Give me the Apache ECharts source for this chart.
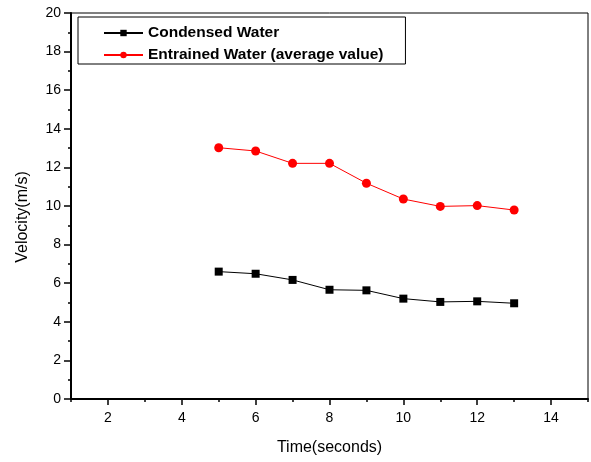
<!DOCTYPE html>
<html>
<head>
<meta charset="utf-8">
<script src="https://cdn.jsdelivr.net/npm/echarts@6/dist/echarts.min.js"></script>
<style>html,body{margin:0;padding:0;background:#fff}#c{width:591px;height:462px}</style>
</head>
<body>
<div id="c"></div>
<script>
var timeValues = [5, 6, 7, 8, 9, 10, 11, 12, 13];
var condensedWater = [6.60, 6.49, 6.17, 5.66, 5.63, 5.20, 5.03, 5.06, 4.96];
var entrainedWater = [13.02, 12.85, 12.21, 12.21, 11.18, 10.36, 9.98, 10.02, 9.79];
var xMajorTicks = [2, 4, 6, 8, 10, 12, 14];
var xMinorTicks = [1, 3, 5, 7, 9, 11, 13, 15];

function pairs(xs, ys) { return xs.map(function (x, i) { return [x, ys[i]]; }); }

var font = 'Liberation Sans, Arial, sans-serif';
var chart = echarts.init(document.getElementById('c'), null, {renderer: 'canvas'});
chart.setOption({
  animation: false,
  backgroundColor: '#fff',
  grid: {left: 71, right: 3, top: 13, bottom: 63, show: true, borderColor: '#000', borderWidth: 1, backgroundColor: 'transparent'},
  legend: {
    orient: 'vertical', left: 78, top: 17,
    padding: [8, 22, 1, 25],
    borderColor: '#000', borderWidth: 1,
    itemWidth: 39, itemHeight: 8, itemGap: 6,
    textStyle: {fontFamily: font, fontSize: 15.5, fontWeight: 'bold', color: '#000'},
    data: ['Condensed Water', 'Entrained Water (average value)']
  },
  xAxis: [{
    type: 'value', min: 1, max: 15, interval: 1,
    name: 'Time(seconds)', nameLocation: 'middle', nameGap: 41,
    nameTextStyle: {fontFamily: font, fontSize: 16, color: '#000'},
    axisLine: {show: true, onZero: false, lineStyle: {color: '#000', width: 2}},
    axisTick: {show: true, inside: false, length: 6, customValues: xMajorTicks, lineStyle: {color: '#000', width: 1.5}},
    axisLabel: {customValues: xMajorTicks, margin: 12, fontFamily: font, fontSize: 14, color: '#000'},
    splitLine: {show: false}
  }, {
    type: 'value', min: 1, max: 15, interval: 1, position: 'bottom',
    axisLine: {show: false},
    axisTick: {show: true, inside: false, length: 3, customValues: xMinorTicks, lineStyle: {color: '#000', width: 1.5}},
    axisLabel: {show: false},
    splitLine: {show: false}
  }],
  yAxis: {
    type: 'value', min: 0, max: 20, interval: 2,
    name: 'Velocity(m/s)', nameLocation: 'middle', nameGap: 40,
    nameTextStyle: {fontFamily: font, fontSize: 16, color: '#000', padding: [0, 22, 0, 0]},
    axisLine: {show: true, onZero: false, lineStyle: {color: '#000', width: 2}},
    axisTick: {show: true, inside: false, length: 7, lineStyle: {color: '#000', width: 1.5}},
    minorTick: {show: true, splitNumber: 2, length: 3, lineStyle: {color: '#000', width: 1.5}},
    axisLabel: {margin: 10, fontFamily: font, fontSize: 14, color: '#000'},
    splitLine: {show: false}
  },
  series: [{
    name: 'Condensed Water', type: 'line', xAxisIndex: 0,
    data: pairs(timeValues, condensedWater),
    symbol: 'rect', symbolSize: 8,
    itemStyle: {color: '#000'}, lineStyle: {color: '#000', width: 1}
  }, {
    name: 'Entrained Water (average value)', type: 'line', xAxisIndex: 0,
    data: pairs(timeValues, entrainedWater),
    symbol: 'circle', symbolSize: 9,
    itemStyle: {color: '#ff0000'}, lineStyle: {color: '#ff0000', width: 1}
  }]
});
</script>
</body>
</html>
